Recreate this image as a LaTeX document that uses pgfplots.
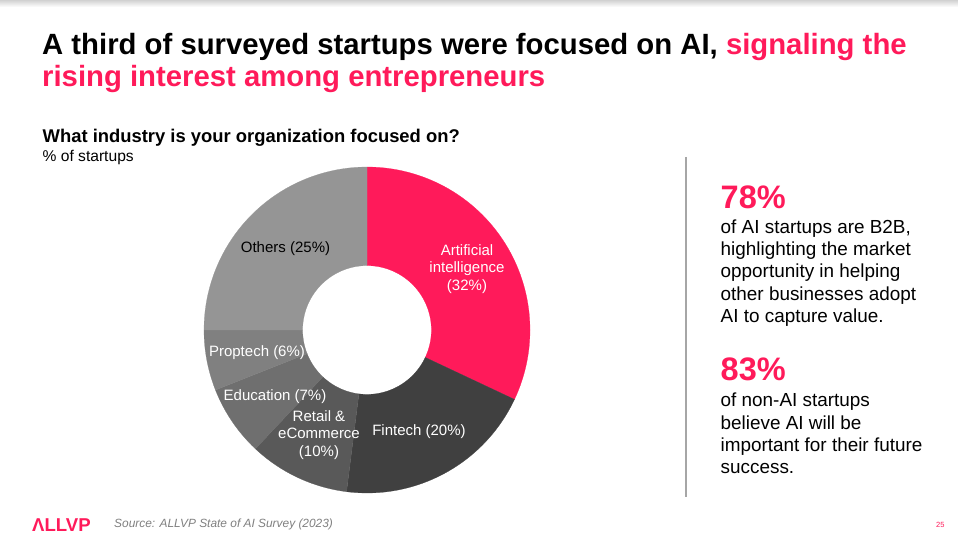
\documentclass[border=0pt]{standalone}
\usepackage{pgfplots}
\pgfplotsset{compat=1.18}
\usepgfplotslibrary{fillbetween}
\usepackage{fontspec}
\setmainfont{Liberation Sans}
\definecolor{pinkc}{HTML}{FF1A5A}
\definecolor{fincol}{HTML}{404040}
\definecolor{retcol}{HTML}{595959}
\definecolor{educol}{HTML}{6F6F6F}
\definecolor{procol}{HTML}{808080}
\definecolor{othcol}{HTML}{959595}
\definecolor{srcgray}{HTML}{7F7F7F}
\definecolor{divgray}{HTML}{A6A6A6}

\def\cumsum{0}
\newcommand{\donutslice}[3]{%
  \pgfmathsetmacro\sa{90-3.6*\cumsum}%
  \pgfmathsetmacro\sb{90-3.6*(\cumsum+#1)}%
  \edef\temp{%
    \noexpand\addplot[draw=none, name path=o#3, domain=\sb:\sa, samples=120] ({cos(x)},{sin(x)});
    \noexpand\addplot[draw=none, name path=i#3, domain=\sb:\sa, samples=120] ({0.395*cos(x)},{0.395*sin(x)});
    \noexpand\addplot[fill=#2, draw=#2, line width=0.2pt] fill between[of=o#3 and i#3];
  }\temp
  \pgfmathsetmacro\newsum{\cumsum+#1}%
  \global\let\cumsum\newsum
}

\begin{document}
\begin{tikzpicture}[x=1pt,y=1pt]
\path (0,0) rectangle (958,539);
\shade[top color=black!18, bottom color=white] (0,532) rectangle (958,539);

% Title
\node[anchor=base west, inner sep=0pt, font=\fontsize{29.3}{33}\selectfont\bfseries] at (42,484.7)
  {A third of surveyed startups were focused on AI, \textcolor{pinkc}{signaling the}};
\node[anchor=base west, inner sep=0pt, font=\fontsize{29.3}{33}\selectfont\bfseries, text=pinkc] at (42,452.3)
  {rising interest among entrepreneurs};

% Subtitle
\node[anchor=base west, inner sep=0pt, font=\fontsize{18.4}{21}\selectfont\bfseries] at (42.5,396.7)
  {What industry is your organization focused on?};
\node[anchor=base west, inner sep=0pt, font=\fontsize{15.6}{18}\selectfont] at (42.5,377.3)
  {\% of startups};

% Donut
\begin{axis}[
  at={(367pt,209pt)}, anchor=center,
  scale only axis, width=326pt, height=326pt,
  xmin=-1, xmax=1, ymin=-1, ymax=1,
  axis lines=none, clip=false,
]
\donutslice{32}{pinkc}{a}
\donutslice{20}{fincol}{b}
\donutslice{10}{retcol}{c}
\donutslice{7}{educol}{d}
\donutslice{6}{procol}{e}
\donutslice{25}{othcol}{f}
\end{axis}

% Slice labels
\begin{scope}[every node/.style={font=\fontsize{15}{17.7}\selectfont, align=center, inner sep=0pt}]
\node at (285.5,290) {Others (25\%)};
\node[text=white] at (467,270) {Artificial\\intelligence\\(32\%)};
\node[text=white] at (257,186) {Proptech (6\%)};
\node[text=white] at (275,142) {Education (7\%)};
\node[text=white] at (319,104) {Retail \&\\eCommerce\\(10\%)};
\node[text=white] at (419,107) {Fintech (20\%)};
\end{scope}

% Divider
\draw[divgray, line width=1.3pt] (686,382) -- (686,42.3);

% Right-hand text
\node[anchor=base west, inner sep=0pt, font=\fontsize{32.5}{36}\selectfont\bfseries, text=pinkc] at (720.5,330.7) {78\%};
\begin{scope}[every node/.style={anchor=base west, inner sep=0pt, font=\fontsize{18.9}{22}\selectfont}]
\node at (720.5,305.7) {of AI startups are B2B,};
\node at (720.5,283.4) {highlighting the market};
\node at (720.5,261.1) {opportunity in helping};
\node at (720.5,238.8) {other businesses adopt};
\node at (720.5,216.5) {AI to capture value.};
\end{scope}
\node[anchor=base west, inner sep=0pt, font=\fontsize{32.5}{36}\selectfont\bfseries, text=pinkc] at (720.5,158.3) {83\%};
\begin{scope}[every node/.style={anchor=base west, inner sep=0pt, font=\fontsize{18.9}{22}\selectfont}]
\node at (720.5,132.3) {of non-AI startups};
\node at (720.5,110) {believe AI will be};
\node at (720.5,87.7) {important for their future};
\node at (720.5,65.4) {success.};
\end{scope}

% Footer
\node[anchor=base west, inner sep=0pt, font=\fontsize{18.6}{20}\selectfont\bfseries, text=pinkc] at (32,8) {ΛLLVP};
\node[anchor=base west, inner sep=0pt, font=\fontsize{11.9}{13}\selectfont\itshape, text=srcgray] at (114,12) {Source: ALLVP State of AI Survey (2023)};
\node[anchor=base west, inner sep=0pt, font=\fontsize{7.5}{9}\selectfont, text=pinkc] at (936,12) {25};
\end{tikzpicture}
\end{document}
